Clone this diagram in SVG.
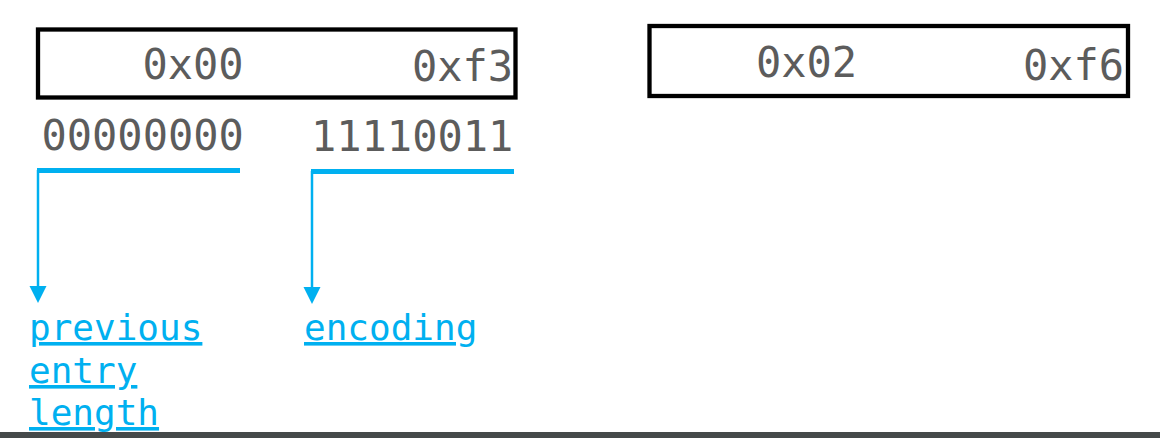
<svg xmlns="http://www.w3.org/2000/svg" width="1160" height="438" viewBox="0 0 1160 438">
  <defs>
    <style>
      .box { fill: #ffffff; stroke: #000000; stroke-width: 4.3; }
      .val { font-family: "DejaVu Sans Mono", "Liberation Mono", monospace; font-size: 42px; fill: #5c5c5c; }
      .lbl { font-family: "DejaVu Sans Mono", "Liberation Mono", monospace; font-size: 36px; fill: #00b0f0; text-decoration: underline; }
      .bar { stroke: #00b0f0; stroke-width: 5; fill: none; }
      .stem { stroke: #00b0f0; stroke-width: 2.5; fill: none; }
    </style>
    <marker id="arrow" markerUnits="userSpaceOnUse" markerWidth="18" markerHeight="18" refX="0" refY="9" orient="auto" viewBox="0 0 18 18">
      <path d="M0,0.5 L17,9 L0,17.5 Z" fill="#00b0f0"/>
    </marker>
  </defs>
  <rect width="1160" height="438" fill="#ffffff"/>

  <g id="entry1">
    <rect class="box" x="38" y="29.5" width="477.5" height="68"/>
    <text class="val" x="142.5" y="79">0x00</text>
    <text class="val" x="412" y="81">0xf3</text>
  </g>

  <g id="entry2">
    <rect class="box" x="649.5" y="26" width="478.5" height="70"/>
    <text class="val" x="756" y="77">0x02</text>
    <text class="val" x="1023" y="80">0xf6</text>
  </g>

  <g id="bits">
    <text class="val" x="41.5" y="150">00000000</text>
    <text class="val" x="311" y="151">11110011</text>
  </g>

  <g id="connectors">
    <path class="bar" d="M37,170.5 H240"/>
    <path class="stem" d="M38,170 V286" marker-end="url(#arrow)"/>
    <path class="bar" d="M311,171.5 H514"/>
    <path class="stem" d="M312,171 V287" marker-end="url(#arrow)"/>
  </g>

  <g id="label-prevlen">
    <text class="lbl" x="29" y="340">previous</text>
    <text class="lbl" x="29" y="383">entry</text>
    <text class="lbl" x="29" y="425">length</text>
  </g>

  <g id="label-encoding">
    <text class="lbl" x="304" y="340">encoding</text>
  </g>

  <rect x="0" y="432" width="1160" height="6" fill="#454a4a"/>
</svg>
